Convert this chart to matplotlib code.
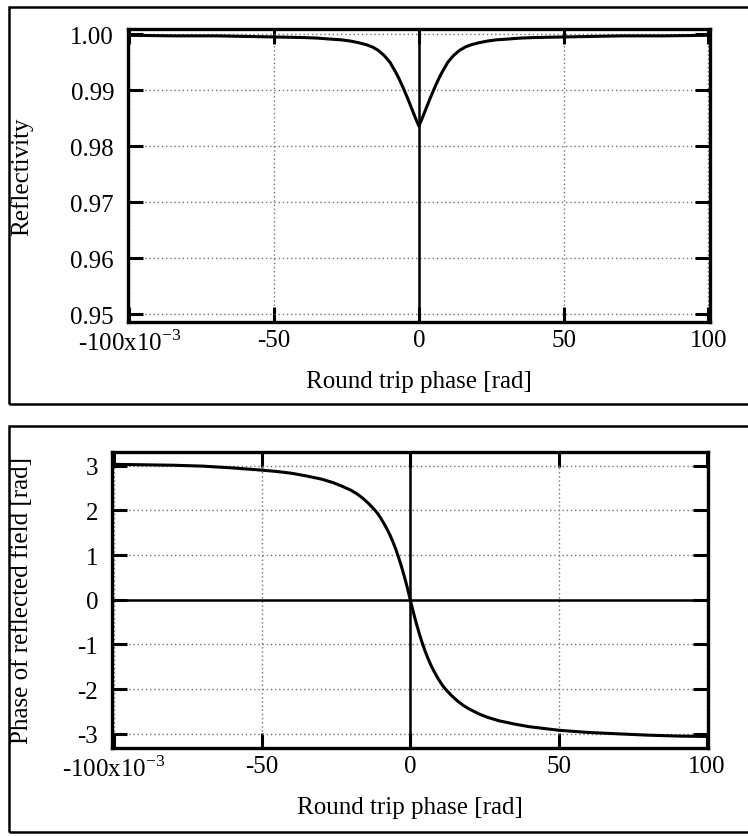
#!/usr/bin/env python3
# Reflectivity and phase of the reflected field vs round trip phase
import numpy as np
import matplotlib
matplotlib.use('Agg')
import matplotlib.pyplot as plt
from matplotlib.patches import Rectangle

plt.rcParams['font.family'] = ['Liberation Serif', 'DejaVu Serif']
plt.rcParams['mathtext.fontset'] = 'custom'
plt.rcParams['mathtext.rm'] = 'Liberation Serif'
plt.rcParams['axes.unicode_minus'] = False

# round trip phase in units of 1e-3 rad
x_refl = [-100, -85, -70, -60, -50, -40, -35, -30, -27, -24, -21, -18, -16, -14, -12, -10,
          -9, -8, -7, -6, -5, -4, -3, -2, -1, 0,
          1, 2, 3, 4, 5, 6, 7, 8, 9, 10, 12, 14, 16, 18, 21, 24, 27, 30, 35, 40, 50,
          60, 70, 85, 100]
refl = [0.9998, 0.9997, 0.9997, 0.9996, 0.9995, 0.9994, 0.9993, 0.9991, 0.9990, 0.9988,
        0.9985, 0.9981, 0.9977, 0.9971, 0.9962, 0.9950, 0.9941, 0.9932, 0.9922, 0.9911,
        0.9899, 0.9887, 0.9874, 0.9861, 0.9848, 0.9836,
        0.9848, 0.9861, 0.9874, 0.9887, 0.9899, 0.9911, 0.9922, 0.9932, 0.9941, 0.9950,
        0.9962, 0.9971, 0.9977, 0.9981, 0.9985, 0.9988, 0.9990, 0.9991, 0.9993, 0.9994,
        0.9995, 0.9996, 0.9997, 0.9997, 0.9998]

x_phase = [-100, -90, -80, -70, -60, -50, -45, -40, -35, -30, -26, -23, -20, -18, -16, -14,
           -12, -11, -10, -9, -8, -7, -6, -5, -4, -3, -2, -1, 0,
           1, 2, 3, 4, 5, 6, 7, 8, 9, 10, 11, 12, 14, 16, 18, 20, 23, 26, 30, 35, 40, 45,
           50, 60, 70, 80, 90, 100]
phase = [3.03, 3.02, 3.01, 2.99, 2.95, 2.90, 2.87, 2.83, 2.77, 2.70, 2.62, 2.54, 2.45, 2.37,
         2.27, 2.15, 2.01, 1.93, 1.83, 1.72, 1.60, 1.47, 1.32, 1.15, 0.96, 0.75, 0.52, 0.27, 0.0,
         -0.27, -0.52, -0.75, -0.96, -1.15, -1.32, -1.47, -1.60, -1.72, -1.83, -1.93, -2.01,
         -2.15, -2.27, -2.37, -2.45, -2.55, -2.63, -2.71, -2.78, -2.84, -2.88, -2.92, -2.97,
         -3.00, -3.03, -3.05, -3.06]

xticks = [-100, -50, 0, 50, 100]
xticklabels = ['-100x10$^{-3}$', '-50', '0', '50', '100']
refl_ticks = [0.95, 0.96, 0.97, 0.98, 0.99, 1.00]
phase_ticks = [-3, -2, -1, 0, 1, 2, 3]

fs = 18
fig = plt.figure(figsize=(7.48, 8.37), dpi=100)

# outer boxes round each panel
for y0, h in [(0.516, 0.474), (0.005, 0.485)]:
	fig.patches.append(Rectangle((0.012, y0), 1.2, h, transform=fig.transFigure,
	                             fill=False, lw=1.8, ec='black'))

def style(ax):
	ax.set_xlim(-100.5, 100.5)
	ax.set_xticks(xticks)
	ax.set_xticklabels(xticklabels)
	ax.tick_params(direction='in', length=11, width=2.2, top=True, right=True,
	               labelsize=fs, pad=10)
	ax.tick_params(axis='x', pad=5)
	ax.grid(True, linestyle=(0, (1, 2)), color='0.45', lw=1.0)
	for s in ax.spines.values():
		s.set_linewidth(2.4)
	ax.set_xlabel('Round trip phase [rad]', fontsize=fs, labelpad=11)

ax1 = fig.add_axes([0.171, 0.614, 0.778, 0.350])
ax1.axvline(0, color='black', lw=1.8)
ax1.plot(x_refl, refl, color='black', lw=2.2)
ax1.set_ylim(0.9486, 1.0009)
ax1.set_yticks(refl_ticks)
ax1.set_yticklabels(['%.2f' % v for v in refl_ticks])
ax1.set_ylabel('Reflectivity', fontsize=fs)
style(ax1)
ax1.yaxis.set_label_coords(-0.163, 0.5)

ax2 = fig.add_axes([0.150, 0.105, 0.797, 0.354])
ax2.axvline(0, color='black', lw=1.8)
ax2.axhline(0, color='black', lw=1.8)
ax2.plot(x_phase, phase, color='black', lw=2.2)
ax2.set_ylim(-3.32, 3.31)
ax2.set_yticks(phase_ticks)
ax2.set_yticklabels([str(v) for v in phase_ticks])
ax2.set_ylabel('Phase of reflected field [rad]', fontsize=fs)
style(ax2)
ax2.yaxis.set_label_coords(-0.133, 0.5)

plt.savefig('out.png', dpi=100)
